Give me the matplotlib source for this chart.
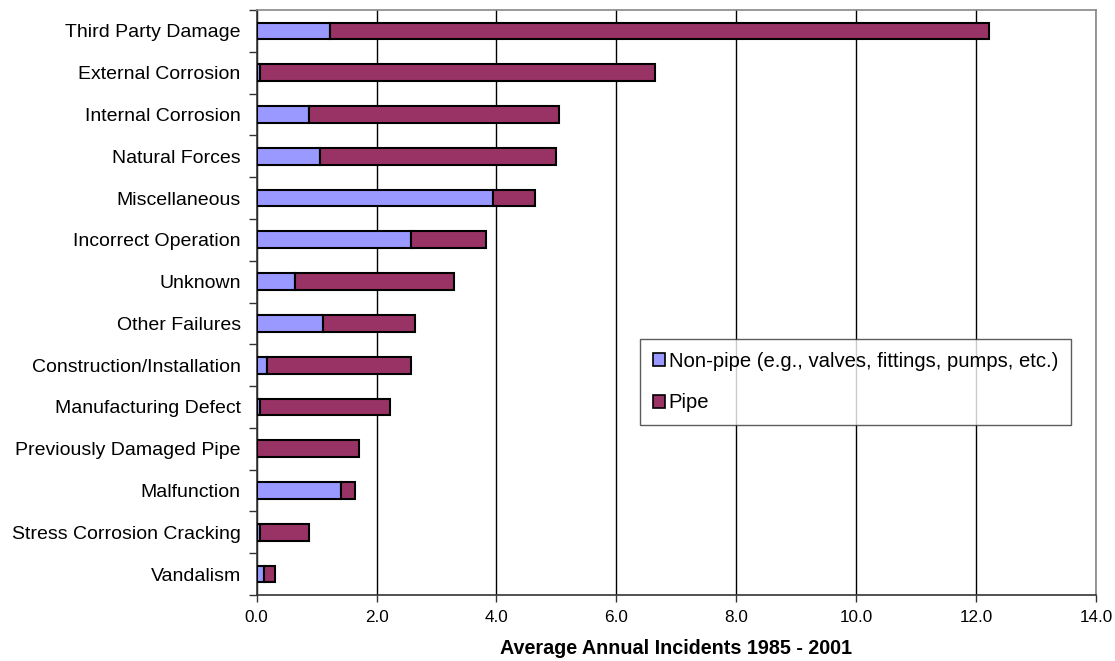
import matplotlib
matplotlib.use("Agg")
import matplotlib.pyplot as plt
import numpy as np

categories = [
    "Third Party Damage",
    "External Corrosion",
    "Internal Corrosion",
    "Natural Forces",
    "Miscellaneous",
    "Incorrect Operation",
    "Unknown",
    "Other Failures",
    "Construction/Installation",
    "Manufacturing Defect",
    "Previously Damaged Pipe",
    "Malfunction",
    "Stress Corrosion Cracking",
    "Vandalism",
]
non_pipe = [1.23, 0.06, 0.88, 1.05, 3.94, 2.58, 0.64, 1.11, 0.17, 0.06, 0.0, 1.40, 0.06, 0.12]
pipe = [10.99, 6.58, 4.17, 3.95, 0.70, 1.24, 2.65, 1.53, 2.41, 2.17, 1.71, 0.24, 0.82, 0.18]
series_labels = ["Non-pipe (e.g., valves, fittings, pumps, etc.)", "Pipe"]
x_ticks = [0, 2, 4, 6, 8, 10, 12, 14]
x_label = "Average Annual Incidents 1985 - 2001"

plt.rcParams["font.family"] = ["Liberation Sans", "DejaVu Sans"]

fig = plt.figure(figsize=(11.15, 6.61), dpi=100)
ax = fig.add_axes([0.2302, 0.0998, 0.7528, 0.8851])

y = np.arange(len(categories))
bar_h = 0.4
c_np = "#9999FF"
c_p = "#993366"
ax.barh(y, non_pipe, height=bar_h, color=c_np, edgecolor="black",
        linewidth=1.5, label=series_labels[0], zorder=3)
ax.barh(y, pipe, left=non_pipe, height=bar_h, color=c_p, edgecolor="black",
        linewidth=1.5, label=series_labels[1], zorder=3)

ax.set_xlim(0, 14)
ax.set_ylim(len(categories) - 0.5, -0.5)

ax.set_xticks(x_ticks)
ax.set_xticklabels([f"{v:.1f}" for v in x_ticks], fontsize=12.3)
ax.tick_params(axis="x", direction="out", length=5, width=1, pad=6, color="#333333")

# category labels centred on bars, tick marks between categories
ax.set_yticks(y)
ax.set_yticklabels(categories, fontsize=14.0)
ax.tick_params(axis="y", which="major", length=0, pad=11.5)
ax.set_yticks(np.arange(-0.5, len(categories) + 0.5, 1), minor=True)
ax.tick_params(axis="y", which="minor", direction="out", length=6, width=1, color="#333333")

ax.xaxis.grid(True, color="black", linewidth=1)
ax.set_axisbelow(True)

for side in ("top", "right"):
    ax.spines[side].set_color("#888888")
    ax.spines[side].set_linewidth(1.2)
for side in ("left", "bottom"):
    ax.spines[side].set_color("#333333")
    ax.spines[side].set_linewidth(1.2)

ax.set_xlabel(x_label, fontsize=14.2, fontweight="bold", labelpad=10)

leg = ax.legend(loc="upper left", bbox_to_anchor=(0.4567, 0.4376),
                fontsize=14.6, frameon=True, fancybox=False, borderpad=0.62,
                labelspacing=1.12, handlelength=0.6, handleheight=0.6,
                handletextpad=0.2, borderaxespad=0)
leg.get_frame().set_edgecolor("#333333")
leg.get_frame().set_linewidth(1)
for h in leg.legend_handles:
    h.set_linewidth(1.2)

fig.savefig("out.png", dpi=100)
